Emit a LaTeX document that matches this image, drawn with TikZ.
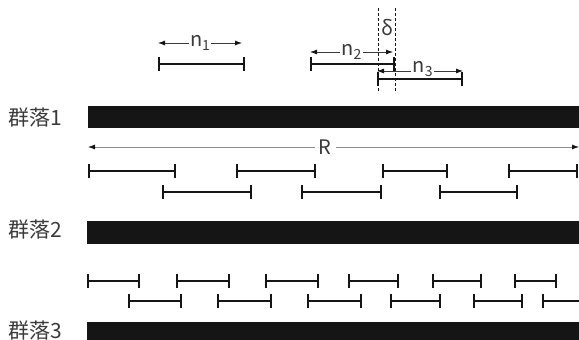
\documentclass[tikz,border=0pt]{standalone}
\usepackage{fontspec}
\setmainfont{Noto Sans CJK SC}
\usetikzlibrary{arrows.meta}
\definecolor{barBlack}{HTML}{151515}
\definecolor{labelGray}{HTML}{3A3A3A}
\definecolor{dimGray}{HTML}{8A8A8A}
\newcommand{\lowidx}[1]{\raisebox{-4pt}{\fontsize{14}{14}\selectfont #1}}

\begin{document}
\begin{tikzpicture}[
    x=1pt, y=-1pt,
    bar/.style={fill=barBlack, draw=none},
    group/.style={anchor=west, text=labelGray, font=\fontsize{21}{23}\selectfont, inner sep=0pt},
    span/.style={draw=barBlack, line width=1.6pt, {Bar[width=14pt, line width=1.6pt]}-{Bar[width=14pt, line width=1.6pt]}},
    dim/.style={draw=labelGray, line width=0.8pt, {Latex[length=7pt, width=5pt, fill=barBlack, color=barBlack]}-{Latex[length=7pt, width=5pt, fill=barBlack, color=barBlack]}},
    dimtext/.style={fill=white, text=labelGray, font=\fontsize{20}{22}\selectfont, inner sep=1.5pt},
    guide/.style={draw=barBlack, line width=0.6pt, dash pattern=on 3pt off 2pt},
]
\useasboundingbox (0,0) rectangle (579,340);
\clip (0,0) rectangle (579,340);

% communities
\fill[bar] (88,106) rectangle (590,128);
\fill[bar] (87,221) rectangle (590,244);
\fill[bar] (87,322) rectangle (590,350);
\node[group] (grp1) at (8,118) {群落1};
\node[group] (grp2) at (8,230) {群落2};
\node[group] (grp3) at (8,331) {群落3};

% read lengths on top
\coordinate (n1a) at (158,64);  \coordinate (n1b) at (245,64);
\coordinate (n2a) at (310,64);  \coordinate (n2b) at (395,64);
\coordinate (n3a) at (377,79);  \coordinate (n3b) at (463,79);
\draw[dim] ([yshift=21pt]n1a) -- node[dimtext] {n\lowidx{1}} ([yshift=21pt, xshift=-3pt]n1b);
\draw[dim] ([yshift=12pt]n2a) -- node[dimtext] {n\lowidx{2}} ([yshift=12pt, xshift=-2pt]n2b);
\draw[dim] ([yshift=8pt]n3a) -- node[dimtext, pos=0.53, yshift=2pt] {n\lowidx{3}} ([yshift=8pt]n3b);
\draw[span] (n1a) -- (n1b);
\draw[span] (n2a) -- (n2b);
\draw[span] (n3a) -- (n3b);

% overlap delta
\coordinate (dl) at (378,8);  \coordinate (dr) at (395,8);
\draw[guide] (dl) -- ++(0,85);
\draw[guide] (dr) -- ++(0,85);
\node[text=labelGray, font=\fontsize{20}{22}\selectfont, inner sep=0pt] (delta) at (387,28) {δ};

% genome length
\coordinate (rL) at (88,147);  \coordinate (rR) at (579,147);
\draw[dim, draw=dimGray] (rL) -- node[dimtext, pos=0.483, inner sep=4pt] (R) {R} (rR);

% reads, community 1
\foreach \a/\b in {88/176, 236/316, 382/448, 508/578}
  \draw[span] (\a,171) -- (\b,171);
\foreach \a/\b in {162/252, 301/382, 439/518}
  \draw[span] (\a,192) -- (\b,192);

% reads, community 2
\foreach \a/\b in {87/140, 176/230, 265/319, 348/399, 432/482, 514/557}
  \draw[span] (\a,281) -- (\b,281);
\foreach \a/\b in {128/182, 217/272, 307/362, 390/441, 473/523}
  \draw[span] (\a,301) -- (\b,301);
\draw[draw=barBlack, line width=1.6pt, {Bar[width=14pt, line width=1.6pt]}-] (542,301) -- (585,301);
\end{tikzpicture}
\end{document}
